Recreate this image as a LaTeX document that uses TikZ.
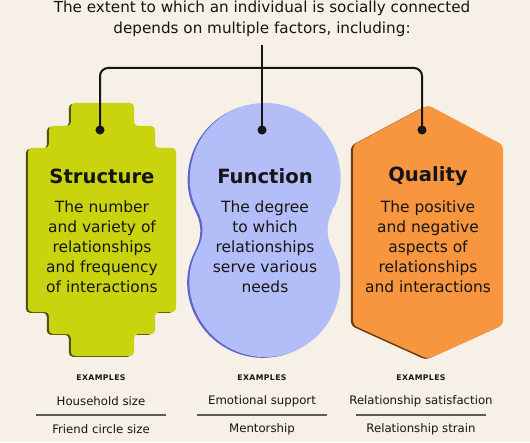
\documentclass[tikz,border=0pt]{standalone}
\usepackage{fontspec}
\setmainfont{DejaVu Sans}
\usetikzlibrary{calc}
\definecolor{scpaper}{HTML}{F6F0E6}
\definecolor{scink}{HTML}{151515}
\definecolor{scrulec}{HTML}{5A5A5A}
\definecolor{scgreen}{HTML}{C9D40E}
\definecolor{scgreendk}{HTML}{4F5410}
\definecolor{scblue}{HTML}{B3BEF8}
\definecolor{scbluedk}{HTML}{5C62D0}
\definecolor{scorange}{HTML}{F7963F}
\definecolor{scorangedk}{HTML}{6E3B12}
\tikzset{
  scshape/.style 2 args={
    fill=#1, rounded corners=3pt,
    preaction={fill=#2, transform canvas={xshift=-1.6pt, yshift=-0.6pt}}},
  scheader/.style={align=center, text=scink,
    font=\fontsize{11.4}{15.8}\selectfont},
  scname/.style={text=scink, font=\fontsize{14.7}{18}\selectfont\bfseries},
  scbody/.style={align=center, text=scink,
    font=\fontsize{11.6}{15}\selectfont},
  schead/.style={text=scink,
    font=\fontsize{5.8}{8}\selectfont\bfseries\addfontfeature{LetterSpace=5}},
  scitem/.style={text=scink, font=\fontsize{8.8}{11}\selectfont},
  scrule/.style={draw=scrulec, line width=1.1pt},
  scwire/.style={draw=scink, line width=1.5pt, rounded corners=6pt},
  scdot/.style={circle, fill=scink, inner sep=0pt, minimum size=6.8pt},
}

\begin{document}
\begin{tikzpicture}[x=0.75pt, y=0.75pt]

% Paper.
\fill[scpaper] (0,0) rectangle (530,442);
\useasboundingbox (0,0) rectangle (530,442);

% Header.
\node[scheader] (header) at (262,423)
  {The extent to which an individual is socially connected\\
   depends on multiple factors, including:};

% The three shapes.
\path[scshape={scgreen}{scgreendk}]
  (71,339) -- (134,339) -- (134,316) -- (155,316) -- (155,294)
  -- (176,294) -- (176,130) -- (155,130) -- (155,108) -- (134,108)
  -- (134,86) -- (71,86) -- (71,108) -- (49,108) -- (49,130)
  -- (28,130) -- (28,294) -- (49,294) -- (49,316) -- (71,316) -- cycle;
\path[scshape={scblue}{scbluedk}]
  ($(265,264)+(-25:75)$) arc[start angle=-25, end angle=205, radius=75]
  to[out=-65, in=65] ($(265,160)+(155:75)$)
  arc[start angle=155, end angle=385, radius=75]
  to[out=115, in=-115] cycle;
\path[scshape={scorange}{scorangedk}]
  (428,337) -- (503,297) -- (503,117) -- (428,83) -- (353,117)
  -- (353,297) -- cycle;

% Names and descriptions.
\foreach \x/\n/\t/\d in {
    102/s/Structure/{The number\\and variety of\\relationships\\
      and frequency\\of interactions},
    265/f/Function/{The degree\\to which\\relationships\\
      serve various\\needs},
    428/q/Quality/{The positive\\and negative\\aspects of\\
      relationships\\and interactions}} {
  \node[scname] (name\n) at (\x,266) {\t};
  \node[scbody] (body\n) at (\x,195) {\d};
}

% Wiring from the header to each shape.
\node[scdot] (dots) at (100,312) {};
\node[scdot] (dotf) at (262,312) {};
\node[scdot] (dotq) at (422,312) {};
\coordinate (stem) at (262,397);
\coordinate (brace) at (262,374);
\draw[scwire] (stem) -- (dotf.center);
\draw[scwire] (dots.center) |- (brace) -| (dotq.center);

% Examples.
\foreach \x/\n/\a/\b in {
    101/s/Household size/Friend circle size,
    262/f/Emotional support/Mentorship,
    421/q/Relationship satisfaction/Relationship strain} {
  \node[schead] (ex\n) at (\x,64) {EXAMPLES};
  \node[scitem] (exa\n) at (\x,41) {\a};
  \node[scitem] (exb\n) at (\x,13) {\b};
  \draw[scrule] (\x-65,27) -- (\x+65,27);
}

\end{tikzpicture}
\end{document}
